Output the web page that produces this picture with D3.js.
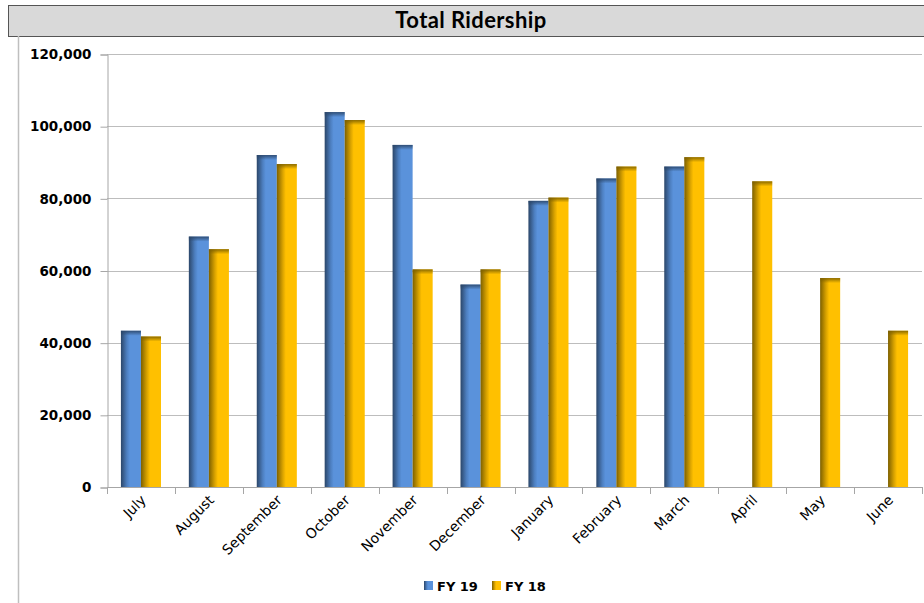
<!DOCTYPE html>
<html>
<head>
<meta charset="utf-8">
<script src="https://cdn.jsdelivr.net/npm/d3@7"></script>
<style>
  body { margin: 0; background: #fff; }
  svg { display: block; }
</style>
</head>
<body>
<svg width="924" height="603"></svg>
<script>
var months = ["July", "August", "September", "October", "November", "December",
              "January", "February", "March", "April", "May", "June"];
var fy19 = [43300, 69400, 92000, 103900, 94800, 56100, 79300, 85500, 88800, null, null, null];
var fy18 = [41700, 65900, 89500, 101700, 60300, 60300, 80200, 88800, 91400, 84700, 57900, 43300];
var seriesNames = ["FY 19", "FY 18"];
var yTicks = [0, 20000, 40000, 60000, 80000, 100000, 120000];

var svg = d3.select("svg");
var plotLeft = 107, plotRight = 922, plotTop = 54, plotBottom = 487;

var colors = {
    "FY 19": { dark: "#2b4669", mid: "#4d7fc0", light: "#5a92db" },
    "FY 18": { dark: "#7d6000", mid: "#d9a300", light: "#ffc000" }
};

// gradients
var defs = svg.append("defs");
seriesNames.forEach(function(s, i) {
    var c = colors[s];
    var g = defs.append("linearGradient").attr("id", "grad" + i)
        .attr("x1", 0).attr("x2", 1).attr("y1", 0).attr("y2", 0);
    g.append("stop").attr("offset", "0%").attr("stop-color", c.dark);
    g.append("stop").attr("offset", "30%").attr("stop-color", c.mid);
    g.append("stop").attr("offset", "45%").attr("stop-color", c.light);
    g.append("stop").attr("offset", "100%").attr("stop-color", c.light);
    var t = defs.append("linearGradient").attr("id", "cap" + i)
        .attr("x1", 0).attr("x2", 0).attr("y1", 0).attr("y2", 1);
    t.append("stop").attr("offset", "0%").attr("stop-color", c.dark).attr("stop-opacity", 0.9);
    t.append("stop").attr("offset", "100%").attr("stop-color", c.dark).attr("stop-opacity", 0);
});

// title bar
svg.append("rect")
    .attr("x", 8.5).attr("y", 5.5).attr("width", 930).attr("height", 31)
    .attr("fill", "#d9d9d9").attr("stroke", "#555").attr("stroke-width", 1);
svg.append("text")
    .attr("x", 471).attr("y", 28)
    .attr("text-anchor", "middle")
    .style("font-family", "Lato, 'Open Sans', sans-serif")
    .style("font-weight", "bold")
    .style("font-size", "22px")
    .style("letter-spacing", "0.4px")
    .attr("fill", "#000")
    .text("Total Ridership");

// chart frame left edge
svg.append("line")
    .attr("x1", 18.5).attr("x2", 18.5).attr("y1", 36).attr("y2", 603)
    .attr("stroke", "#bfbfbf").attr("stroke-width", 1.5);

var x0 = d3.scaleBand().domain(months).range([plotLeft, plotRight])
    .paddingInner(0.41).paddingOuter(0.205);
var x1 = d3.scaleBand().domain(seriesNames).range([0, x0.bandwidth()]);
var y = d3.scaleLinear().domain([0, 120000]).range([plotBottom, plotTop]);

// gridlines
svg.append("g").selectAll("line").data(yTicks.slice(1)).enter().append("line")
    .attr("x1", plotLeft).attr("x2", plotRight)
    .attr("y1", function(d) { return Math.round(y(d)) + 0.5; })
    .attr("y2", function(d) { return Math.round(y(d)) + 0.5; })
    .attr("stroke", "#bdbdbd").attr("stroke-width", 1);

// y axis
var yAxis = svg.append("g")
    .attr("transform", "translate(" + (plotLeft + 0.5) + ",0.5)")
    .call(d3.axisLeft(y).tickValues(yTicks).tickSize(7).tickPadding(9)
        .tickFormat(d3.format(",")));
yAxis.select(".domain").attr("stroke", "#a6a6a6");
yAxis.selectAll(".tick line").attr("stroke", "#a6a6a6");
yAxis.selectAll("text")
    .style("font-family", "'DejaVu Sans', Verdana, sans-serif")
    .style("font-weight", "bold")
    .style("font-size", "13.5px")
    .attr("fill", "#000");

// x axis
var step = x0.step();
var xg = svg.append("g");
xg.append("line")
    .attr("x1", plotLeft).attr("x2", plotRight)
    .attr("y1", plotBottom + 0.5).attr("y2", plotBottom + 0.5)
    .attr("stroke", "#a6a6a6");
var bounds = months.map(function(m) { return x0(m) - step * x0.paddingInner() / 2; });
bounds.push(plotRight);
xg.selectAll("line.tk").data(bounds).enter().append("line")
    .attr("class", "tk")
    .attr("x1", function(d) { return Math.round(d) + 0.5; })
    .attr("x2", function(d) { return Math.round(d) + 0.5; })
    .attr("y1", plotBottom).attr("y2", plotBottom + 7)
    .attr("stroke", "#a6a6a6");
xg.selectAll("text").data(months).enter().append("text")
    .attr("transform", function(d) {
        return "translate(" + (x0(d) + x0.bandwidth() / 2 + 6) + "," + (plotBottom + 14) + ") rotate(-45)";
    })
    .attr("text-anchor", "end")
    .style("font-family", "'DejaVu Sans', Verdana, sans-serif")
    .style("font-size", "14px")
    .attr("fill", "#000")
    .text(function(d) { return d; });

// bars
var data = [fy19, fy18];
seriesNames.forEach(function(s, i) {
    var vals = months.map(function(m, j) { return { m: m, v: data[i][j] }; })
        .filter(function(d) { return d.v != null; });
    var g = svg.append("g");
    g.selectAll("rect.bar").data(vals).enter().append("rect")
        .attr("class", "bar")
        .attr("x", function(d) { return x0(d.m) + x1(s); })
        .attr("y", function(d) { return y(d.v); })
        .attr("width", x1.bandwidth())
        .attr("height", function(d) { return plotBottom - y(d.v); })
        .attr("fill", "url(#grad" + i + ")");
    g.selectAll("rect.cap").data(vals).enter().append("rect")
        .attr("class", "cap")
        .attr("x", function(d) { return x0(d.m) + x1(s); })
        .attr("y", function(d) { return y(d.v); })
        .attr("width", x1.bandwidth())
        .attr("height", 5)
        .attr("fill", "url(#cap" + i + ")");
});

// legend
var legendX = [424, 492];
var legend = svg.append("g");
seriesNames.forEach(function(s, i) {
    legend.append("rect")
        .attr("x", legendX[i]).attr("y", 581)
        .attr("width", 9).attr("height", 9)
        .attr("fill", "url(#grad" + i + ")");
    legend.append("text")
        .attr("x", legendX[i] + 13).attr("y", 591)
        .style("font-family", "'DejaVu Sans', Verdana, sans-serif")
        .style("font-weight", "bold")
        .style("font-size", "13px")
        .attr("fill", "#000")
        .text(s);
});
</script>
</body>
</html>
